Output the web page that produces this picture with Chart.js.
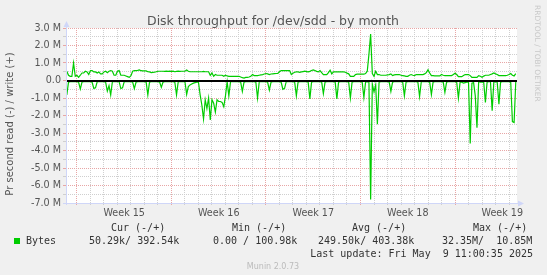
<!DOCTYPE html>
<html>
<head>
<meta charset="utf-8">
<script src="https://cdn.jsdelivr.net/npm/chart.js@4.4.1/dist/chart.umd.min.js"></script>
<style>
  html, body { margin: 0; padding: 0; background: #f0f0f0; }
  #wrap { width: 547px; height: 275px; }
</style>
</head>
<body>
<div id="wrap"><canvas id="diskChart" width="547" height="275"></canvas></div>
<script>
// time axis: days since Monday of week 15, one sample every 3 hours
const firstSample = -0.75;
const sampleStep = 0.125;

const weekLabels = ["Week 15", "Week 16", "Week 17", "Week 18", "Week 19"];
const weekLabelDays = [3.5, 10.5, 17.5, 24.5, 31.5];
const yTickValues = [3, 2, 1, 0, -1, -2, -3, -4, -5, -6, -7];
const yTickLabels = ["3.0 M", "2.0 M", "1.0 M", "0.0", "-1.0 M", "-2.0 M", "-3.0 M",
  "-4.0 M", "-5.0 M", "-6.0 M", "-7.0 M"];

// write (+), M/s
const writeBytes = [
  0.53, 0.30, 0.24, 0.24, 1.00, 0.24,
  0.30, 0.18, 0.30, 0.43, 0.43, 0.53, 0.49, 0.34,
  0.57, 0.57, 0.49, 0.49, 0.43, 0.49, 0.38, 0.38,
  0.49, 0.53, 0.45, 0.53, 0.57, 0.53, 0.30, 0.30,
  0.53, 0.57, 0.30, 0.30, 0.30, 0.26, 0.22, 0.18,
  0.28, 0.53, 0.57, 0.57, 0.58, 0.60, 0.56, 0.55,
  0.55, 0.55, 0.50, 0.49, 0.45, 0.46, 0.47, 0.50,
  0.53, 0.53, 0.53, 0.53, 0.52, 0.53, 0.52, 0.53,
  0.52, 0.53, 0.50, 0.52, 0.53, 0.52, 0.53, 0.53,
  0.53, 0.60, 0.53, 0.50, 0.50, 0.50, 0.50, 0.50,
  0.50, 0.50, 0.50, 0.52, 0.50, 0.50, 0.50, 0.30,
  0.43, 0.24, 0.34, 0.30, 0.30, 0.30, 0.30, 0.24,
  0.30, 0.26, 0.24, 0.24, 0.24, 0.24, 0.24, 0.24,
  0.24, 0.20, 0.16, 0.14, 0.18, 0.18, 0.20, 0.24,
  0.34, 0.28, 0.28, 0.28, 0.30, 0.32, 0.34, 0.37,
  0.40, 0.38, 0.34, 0.37, 0.38, 0.39, 0.40, 0.40,
  0.50, 0.57, 0.57, 0.57, 0.57, 0.57, 0.57, 0.34,
  0.42, 0.47, 0.49, 0.49, 0.47, 0.49, 0.51, 0.53,
  0.51, 0.49, 0.52, 0.57, 0.61, 0.57, 0.52, 0.49,
  0.57, 0.45, 0.34, 0.34, 0.34, 0.45, 0.59, 0.38,
  0.49, 0.49, 0.50, 0.49, 0.49, 0.49, 0.49, 0.47,
  0.42, 0.38, 0.24, 0.24, 0.24, 0.34, 0.36, 0.36,
  0.36, 0.36, 0.36, 0.40, 0.53, 1.50, 2.65, 0.40,
  0.24, 0.53, 0.34, 0.34, 0.30, 0.30, 0.30, 0.30,
  0.32, 0.34, 0.38, 0.28, 0.32, 0.34, 0.34, 0.34,
  0.30, 0.28, 0.26, 0.24, 0.24, 0.30, 0.34, 0.30,
  0.28, 0.34, 0.34, 0.34, 0.34, 0.34, 0.38, 0.45,
  0.61, 0.43, 0.28, 0.28, 0.26, 0.26, 0.26, 0.26,
  0.34, 0.30, 0.28, 0.28, 0.28, 0.28, 0.28, 0.34,
  0.41, 0.34, 0.22, 0.22, 0.22, 0.28, 0.34, 0.34,
  0.34, 0.28, 0.18, 0.18, 0.18, 0.18, 0.28, 0.24,
  0.18, 0.25, 0.30, 0.30, 0.30, 0.34, 0.38, 0.43,
  0.38, 0.34, 0.28, 0.28, 0.28, 0.28, 0.28, 0.30,
  0.34, 0.40, 0.30, 0.26, 0.39
];

// read (-), M/s
const readBytes = [
  -0.82, -0.10, -0.07, -0.07, -0.07, -0.07,
  -0.07, -0.10, -0.49, -0.09, -0.07, -0.07, -0.07, -0.07,
  -0.07, -0.10, -0.45, -0.42, -0.07, -0.07, -0.07, -0.07,
  -0.07, -0.10, -0.60, -0.30, -0.82, -0.07, -0.07, -0.07,
  -0.07, -0.07, -0.46, -0.42, -0.07, -0.07, -0.07, -0.07,
  -0.07, -0.09, -0.46, -0.10, -0.07, -0.07, -0.07, -0.07,
  -0.07, -0.09, -0.82, -0.09, -0.07, -0.07, -0.07, -0.07,
  -0.07, -0.09, -0.39, -0.09, -0.07, -0.07, -0.07, -0.07,
  -0.07, -0.07, -0.10, -0.82, -0.07, -0.07, -0.07, -0.07,
  -0.07, -0.80, -0.35, -0.25, -0.20, -0.15, -0.12, -0.10,
  -0.10, -0.82, -1.40, -2.20, -1.10, -1.60, -1.00, -2.25,
  -1.10, -1.30, -1.80, -1.10, -1.20, -1.20, -1.25, -1.50,
  -0.88, -0.07, -0.88, -0.07, -0.07, -0.07, -0.07, -0.07,
  -0.07, -0.09, -0.62, -0.09, -0.07, -0.07, -0.07, -0.07,
  -0.07, -0.07, -0.10, -1.00, -0.07, -0.07, -0.07, -0.07,
  -0.07, -0.10, -0.55, -0.09, -0.07, -0.07, -0.07, -0.07,
  -0.07, -0.10, -0.50, -0.45, -0.07, -0.07, -0.07, -0.07,
  -0.07, -0.09, -0.88, -0.09, -0.07, -0.07, -0.07, -0.07,
  -0.07, -0.09, -1.05, -0.09, -0.07, -0.07, -0.07, -0.07,
  -0.07, -0.09, -0.75, -0.09, -0.07, -0.07, -0.07, -0.07,
  -0.07, -0.09, -1.05, -0.09, -0.07, -0.07, -0.07, -0.07,
  -0.07, -0.09, -1.00, -0.09, -0.07, -0.07, -0.07, -0.07,
  -0.07, -0.09, -0.97, -0.09, -0.07, -0.10, -6.80, -0.20,
  -0.65, -0.25, -2.50, -0.09, -0.07, -0.07, -0.07, -0.07,
  -0.07, -0.09, -0.62, -0.09, -0.07, -0.07, -0.07, -0.07,
  -0.07, -0.09, -0.88, -0.09, -0.07, -0.07, -0.07, -0.07,
  -0.07, -0.07, -0.10, -0.92, -0.07, -0.07, -0.07, -0.07,
  -0.07, -0.09, -0.80, -0.09, -0.07, -0.07, -0.07, -0.07,
  -0.07, -0.09, -0.68, -0.09, -0.07, -0.07, -0.07, -0.07,
  -0.07, -0.10, -1.00, -0.09, -0.10, -0.15, -0.12, -0.10,
  -0.10, -3.60, -0.15, -0.12, -0.88, -2.70, -0.07, -0.09,
  -0.09, -0.10, -1.25, -0.09, -0.07, -0.07, -1.72, -0.09,
  -0.07, -0.10, -1.35, -0.09, -0.07, -0.07, -0.07, -0.07,
  -0.07, -0.10, -2.35, -2.40, -0.05
];

const chartTitle = "Disk throughput for /dev/sdd - by month";
const yAxisTitle = "Pr second read (-) / write (+)";
const legendHeads = ["Cur (-/+)", "Min (-/+)", "Avg (-/+)", "Max (-/+)"];
const legendValues = ["50.29k/ 392.54k", "0.00 / 100.98k", "249.50k/ 403.38k", "32.35M/  10.85M"];
const legendName = "Bytes";
const lastUpdate = "Last update: Fri May  9 11:00:35 2025";
const watermark = "RRDTOOL / TOBI OETIKER";
const footer = "Munin 2.0.73";

const GREEN = "#00cc00";
const AXIS = "#cfd6f8";
const GRID_MAJOR = "#e8a6a6";
const GRID_MINOR = "#cfcfcf";

function toPoints(values) {
  return values.map((v, i) => ({ x: firstSample + i * sampleStep, y: v }));
}

const muninDecor = {
  id: "muninDecor",
  beforeDraw(chart) {
    const { ctx, chartArea: a } = chart;
    ctx.save();
    ctx.fillStyle = "#f0f0f0";
    ctx.fillRect(0, 0, chart.width, chart.height);
    ctx.fillStyle = "#ffffff";
    ctx.fillRect(a.left, a.top, a.right - a.left, a.bottom - a.top);
    ctx.restore();
  },
  afterDatasetsDraw(chart) {
    const { ctx, chartArea: a } = chart;
    const y0 = Math.round(chart.scales.y.getPixelForValue(0));
    ctx.save();
    ctx.fillStyle = "#000";
    ctx.fillRect(a.left, y0 - 1, a.right - a.left, 2);
    ctx.restore();
  },
  afterDraw(chart) {
    const { ctx, chartArea: a } = chart;
    ctx.save();

    // axes with arrows
    ctx.strokeStyle = AXIS;
    ctx.fillStyle = AXIS;
    ctx.lineWidth = 1;
    ctx.beginPath();
    ctx.moveTo(a.left + 0.5, a.bottom + 2);
    ctx.lineTo(a.left + 0.5, a.top - 3);
    ctx.moveTo(a.left - 3, a.bottom + 0.5);
    ctx.lineTo(a.right + 3, a.bottom + 0.5);
    ctx.stroke();
    ctx.beginPath();
    ctx.moveTo(a.left + 0.5, a.top - 7);
    ctx.lineTo(a.left - 2.5, a.top - 1);
    ctx.lineTo(a.left + 3.5, a.top - 1);
    ctx.closePath();
    ctx.fill();
    ctx.beginPath();
    ctx.moveTo(a.right + 7, a.bottom + 0.5);
    ctx.lineTo(a.right + 1, a.bottom - 2.5);
    ctx.lineTo(a.right + 1, a.bottom + 3.5);
    ctx.closePath();
    ctx.fill();

    // title
    ctx.fillStyle = "#555";
    ctx.font = '12.5px "DejaVu Sans"';
    ctx.textAlign = "center";
    ctx.textBaseline = "alphabetic";
    ctx.fillText(chartTitle, 273, 25);

    // vertical axis title
    ctx.save();
    ctx.translate(10, 124);
    ctx.rotate(-Math.PI / 2);
    ctx.font = '10px "DejaVu Sans"';
    ctx.textBaseline = "middle";
    ctx.fillText(yAxisTitle, 0, 0);
    ctx.restore();

    // watermark
    ctx.save();
    ctx.translate(537, 5);
    ctx.rotate(Math.PI / 2);
    ctx.fillStyle = "#c8c8c8";
    ctx.font = '7.5px "DejaVu Sans"';
    ctx.textAlign = "left";
    ctx.textBaseline = "middle";
    ctx.fillText(watermark, 0, 0);
    ctx.restore();

    // legend block
    const headX = [111, 232, 352, 473];
    const valX = [89, 213, 318, 442];
    ctx.fillStyle = "#333";
    ctx.font = '10px "DejaVu Sans Mono"';
    ctx.textAlign = "left";
    ctx.textBaseline = "middle";
    legendHeads.forEach((t, i) => ctx.fillText(t, headX[i], 228.6));
    legendValues.forEach((t, i) => ctx.fillText(t, valX[i], 241.5));
    ctx.fillText(legendName, 26, 241.5);
    ctx.textAlign = "right";
    ctx.fillText(lastUpdate, 533, 254);
    ctx.fillStyle = GREEN;
    ctx.fillRect(14, 238, 6, 6);

    // footer
    ctx.fillStyle = "#bbb";
    ctx.font = '8px "DejaVu Sans"';
    ctx.textAlign = "center";
    ctx.fillText(footer, 273, 267);

    ctx.restore();
  }
};

new Chart(document.getElementById("diskChart"), {
  type: "line",
  data: {
    datasets: [
      {
        label: "write",
        data: toPoints(writeBytes),
        borderColor: GREEN,
        borderWidth: 1.2,
        pointRadius: 0,
        fill: false,
        tension: 0
      },
      {
        label: "read",
        data: toPoints(readBytes),
        borderColor: GREEN,
        borderWidth: 1.2,
        pointRadius: 0,
        fill: false,
        tension: 0
      }
    ]
  },
  options: {
    responsive: false,
    animation: false,
    layout: { padding: { top: 28, right: 30, bottom: 52, left: 0 } },
    plugins: {
      legend: { display: false },
      tooltip: { enabled: false },
      title: { display: false }
    },
    scales: {
      x: {
        type: "linear",
        min: -0.81,
        max: 32.59,
        afterBuildTicks(scale) {
          const ticks = [];
          for (let h = 0; h <= 65; h++) ticks.push({ value: h / 2 });
          scale.ticks = ticks;
        },
        afterFit(scale) { scale.height = 20; },
        grid: {
          color: (c) => {
            const v = c.tick ? c.tick.value : 0;
            if (!Number.isInteger(v)) return "rgba(0,0,0,0)";
            return v % 7 === 0 ? GRID_MAJOR : GRID_MINOR;
          },
          lineWidth: 1,
          tickLength: 2
        },
        border: { display: false, dash: [1, 1] },
        ticks: {
          autoSkip: false,
          maxRotation: 0,
          padding: 3,
          color: "#555",
          font: { family: "DejaVu Sans", size: 9.6 },
          callback: (v) => {
            const k = weekLabelDays.indexOf(v);
            return k >= 0 ? weekLabels[k] : "";
          }
        }
      },
      y: {
        min: -7,
        max: 3,
        afterBuildTicks(scale) {
          const ticks = [];
          for (let i = -14; i <= 6; i++) ticks.push({ value: i / 2 });
          scale.ticks = ticks;
        },
        afterFit(scale) { scale.width = 66; },
        grid: {
          color: (c) => {
            const v = c.tick ? c.tick.value : 0;
            return Number.isInteger(v) ? GRID_MAJOR : GRID_MINOR;
          },
          lineWidth: 1,
          tickLength: 3
        },
        border: { display: false, dash: [1, 1] },
        ticks: {
          autoSkip: false,
          padding: 2,
          color: "#555",
          font: { family: "DejaVu Sans", size: 9.6 },
          callback: (v) => {
            const k = yTickValues.indexOf(v);
            return k >= 0 ? yTickLabels[k] : "";
          }
        }
      }
    }
  },
  plugins: [muninDecor]
});
</script>
</body>
</html>
